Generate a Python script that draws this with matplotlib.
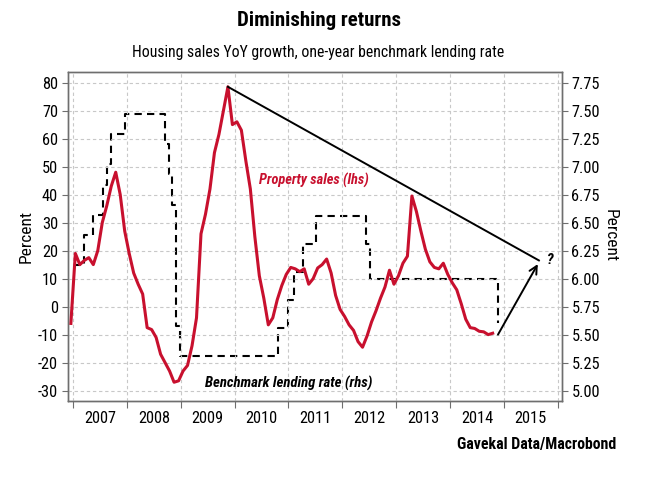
import matplotlib
matplotlib.use("Agg")
import matplotlib.pyplot as plt
import numpy as np
import pandas as pd

plt.rcParams['font.family'] = ['Roboto Condensed', 'Open Sans Condensed', 'DejaVu Sans']
plt.rcParams['font.stretch'] = 'condensed'

# property sales YoY (%), monthly, Dec 2006 - Oct 2014
sales = [-6, 19, 15, 16.5, 17.5, 15, 20, 30, 36, 43, 48, 40,
         27, 19, 12, 8, 4.5, -7.5, -8.2, -11, -17, -20, -23, -27,
         -26.5, -23, -21, -14, -4, 26, 33, 42, 55, 61.5, 70, 78.5,
         65, 66, 63, 52, 42, 25, 11, 3, -6.5, -4, 2.5, 7.5,
         11.5, 14, 13.5, 12.5, 13.5, 8, 10, 13.8, 15, 17, 12, 4,
         -1, -3.5, -6.5, -8.5, -12.5, -14.5, -10.5, -5.5, -1.5, 3, 7, 13,
         8, 11, 15.5, 18, 39.5, 34, 27, 20.5, 16, 14, 13.5, 15.5,
         11.5, 8.5, 6, 1, -4.5, -7.5, -7.8, -8.8, -9, -10, -9.5]
sales_start = 2006 + 11.5 / 12   # mid Dec 2006

# one-year benchmark lending rate (%), change dates
rate_dates = ['2007-01-01', '2007-03-18', '2007-05-19', '2007-07-21', '2007-08-22',
              '2007-09-15', '2007-12-21', '2008-09-16', '2008-10-09', '2008-10-30',
              '2008-11-27', '2008-12-23', '2010-10-20', '2010-12-26', '2011-02-09',
              '2011-04-06', '2011-07-07', '2012-06-08', '2012-07-06', '2014-11-22']
rates = [6.12, 6.39, 6.57, 6.84, 7.02, 7.29, 7.47, 7.20, 6.93, 6.66,
         5.58, 5.31, 5.56, 5.81, 6.06, 6.31, 6.56, 6.31, 6.00, 5.60]

# projection annotations
proj_x, proj_y = 2015.65, 16.5
arrow_start = (2014.89, -10)
arrow_end = (2015.63, 15.2)

years = list(range(2007, 2017))
left_ticks = list(range(-30, 81, 10))
right_ticks = [5.00, 5.25, 5.50, 5.75, 6.00, 6.25, 6.50, 6.75, 7.00, 7.25, 7.50, 7.75]

RED = '#c8102e'
GRID = '#c8c8c8'
SPINE = '#6e6e6e'


def to_year(s):
    d = pd.Timestamp(s)
    return d.year + (d.dayofyear - 1) / 365.0


t_sales = sales_start + np.arange(len(sales)) / 12.0
t_rates = [to_year(d) for d in rate_dates]

fig = plt.figure(figsize=(6.6, 4.91), dpi=100)
ax = fig.add_axes([0.1026, 0.1833, 0.7485, 0.6707])
ax2 = ax.twinx()

ylo, yhi = -33.7, 83.9
ax.set_ylim(ylo, yhi)
ax2.set_ylim(5.75 + ylo / 40, 5.75 + yhi / 40)
ax.set_xlim(2006.90, 2016.074)

ax2.plot(t_rates, rates, drawstyle='steps-post', color='black', lw=1.5,
         dashes=(3.5, 2.5))
ax.plot(t_sales, sales, color=RED, lw=2.2, solid_joinstyle='round')

# trend line from the peak to the projected point
imax = int(np.argmax(sales))
ax.plot([t_sales[imax], proj_x], [sales[imax], proj_y], color='black', lw=1.4)
ax.annotate('', xy=arrow_end, xytext=arrow_start,
            arrowprops=dict(arrowstyle='->', color='black', lw=1.4, mutation_scale=14,
                            shrinkA=0, shrinkB=0))
ax.text(proj_x + 0.22, proj_y, '?', fontsize=11, style='italic', weight='bold',
        ha='center', va='center')

ax.text(2011.465, 44.9, 'Property sales (lhs)', color=RED, fontsize=10.4,
        style='italic', weight='bold', ha='center', va='center')
ax.text(2011.0, -27.3, 'Benchmark lending rate (rhs)', color='black', fontsize=10.6,
        style='italic', weight='bold', ha='center', va='center')

ax.set_zorder(ax2.get_zorder() + 1)
ax.patch.set_visible(False)

# x axis: ticks at year boundaries, labels in the middle of each year
ax.set_xticks(years)
ax.set_xticklabels([])
ax.set_xticks([y + 0.5 for y in years[:-1]], minor=True)
ax.set_xticklabels([str(y) for y in years[:-1]], minor=True, fontsize=11.8)
ax.tick_params(axis='x', which='major', direction='out', length=5, color=SPINE)
ax.tick_params(axis='x', which='minor', length=0, pad=7)

ax.set_yticks(left_ticks)
ax.set_yticklabels([str(v) for v in left_ticks], fontsize=11.8)
ax.tick_params(axis='y', direction='out', length=4, pad=3, color=SPINE)
ax2.set_yticks(right_ticks)
ax2.set_yticklabels([f'{v:.2f}' for v in right_ticks], fontsize=11.8)
ax2.tick_params(axis='y', direction='out', length=4, pad=3, color=SPINE)

ax.grid(True, color=GRID, lw=0.8, dashes=(3, 2.5))
ax.set_axisbelow(True)

for a in (ax, ax2):
    for s in a.spines.values():
        s.set_color(SPINE)
        s.set_linewidth(1.0)

ax.set_ylabel('Percent', fontsize=12.5, va='center')
ax.yaxis.set_label_coords(-0.084, 0.501)
ax2.set_ylabel('Percent', fontsize=12.5, rotation=270, va='center')
ax2.yaxis.set_label_coords(1.098, 0.501)

fig.text(0.4826, 1 - 20 / 491, 'Diminishing returns', ha='center', va='center',
         fontsize=15, weight='bold')
fig.text(0.4826, 1 - 52 / 491, 'Housing sales YoY growth, one-year benchmark lending rate',
         ha='center', va='center', fontsize=11.3)
fig.text(616 / 660, 1 - 445 / 491, 'Gavekal Data/Macrobond', ha='right', va='center',
         fontsize=11.4, weight='bold')

fig.savefig('out.png', dpi=100)
